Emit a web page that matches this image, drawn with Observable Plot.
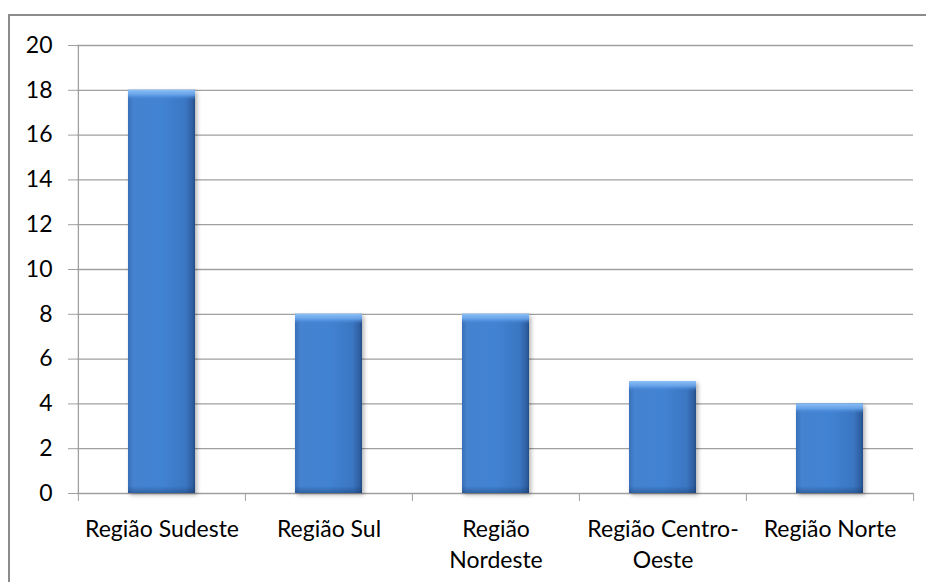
<!DOCTYPE html>
<html><head><meta charset="utf-8">
<script src="https://cdn.jsdelivr.net/npm/d3@7"></script>
<script src="https://cdn.jsdelivr.net/npm/@observablehq/plot@0.6"></script>
<style>
html,body{margin:0;padding:0;background:#fff;}
#wrap{position:relative;width:926px;height:582px;overflow:hidden;}
#border{position:absolute;left:8px;top:14px;width:940px;height:600px;border-top:2px solid #8c8c8c;border-left:2px solid #8c8c8c;pointer-events:none;}
</style></head><body>
<div id="wrap"><div id="chart"></div><div id="border"></div></div>
<script>
const categories = ["Região Sudeste", "Região Sul", "Região Nordeste", "Região Centro-Oeste", "Região Norte"];
const values = [18, 8, 8, 5, 4];
const tickLabels = ["Região Sudeste", "Região Sul", "Região\nNordeste", "Região Centro-\nOeste", "Região Norte"];
const yTicks = [0, 2, 4, 6, 8, 10, 12, 14, 16, 18, 20];

const data = categories.map((c, i) => ({region: c, value: values[i], label: tickLabels[i]}));
const labelOf = new Map(data.map(d => [d.region, d.label]));

const W = 926, H = 582, mL = 77, mR = 13, mT = 45, mB = 89;
const step = (W - mL - mR) / categories.length;
const grid = "#a0a0a0";

const chart = Plot.plot({
  width: W, height: H,
  marginLeft: mL, marginRight: mR, marginTop: mT, marginBottom: mB,
  style: {fontFamily: "Lato, 'Open Sans', sans-serif", fontSize: "23px", color: "#000", background: "#fff", overflow: "visible"},
  x: {domain: categories, paddingInner: 0.6, paddingOuter: 0.3, label: null},
  y: {domain: [0, 20], label: null},
  marks: [
    Plot.ruleY(yTicks, {stroke: grid, strokeWidth: 1.3}),
    Plot.ruleX([categories[0]], {x: d => d, dx: -step / 2, y1: 0, y2: 20, stroke: grid, strokeWidth: 1.3}),
    Plot.axisY({ticks: yTicks, tickSize: 9, tickPadding: 16, stroke: grid, fill: "#000", tickFormat: d => String(d), label: null}),
    Plot.axisX({tickSize: 8, dx: -step / 2, tickFormat: () => "", stroke: grid, label: null}),
    Plot.axisX({ticks: [categories[categories.length - 1]], tickSize: 8, dx: step / 2, tickFormat: () => "", stroke: grid, label: null}),
    Plot.axisX({tickSize: 0, tickPadding: 21, tickFormat: d => labelOf.get(d), lineHeight: 1.35, fill: "#000", label: null}),
    Plot.barY(data, {x: "region", y: "value", fill: "url(#barGrad)"}),
    Plot.barY(data, {x: "region", y1: 0, y2: 0, insetTop: -7, fill: "url(#barShade)"}),
    Plot.barY(data, {x: "region", y1: "value", y2: "value", insetBottom: -10, fill: "url(#bevelGrad)"})
  ]
});

const svg = d3.select(chart);
const defs = svg.insert("defs", ":first-child");
const g1 = defs.append("linearGradient").attr("id", "barGrad").attr("x1", 0).attr("x2", 1).attr("y1", 0).attr("y2", 0);
[[0, "#3a6fb8"], [0.08, "#4582cf"], [0.5, "#4183d3"], [0.86, "#3b76c2"], [0.96, "#2f60a3"], [1, "#244d86"]]
  .forEach(([o, c]) => g1.append("stop").attr("offset", o).attr("stop-color", c));
const g2 = defs.append("linearGradient").attr("id", "barShade").attr("x1", 0).attr("x2", 0).attr("y1", 0).attr("y2", 1);
[[0, "#0a2750", 0], [1, "#0a2750", 0.35]]
  .forEach(([o, c, a]) => g2.append("stop").attr("offset", o).attr("stop-color", c).attr("stop-opacity", a));
const g3 = defs.append("linearGradient").attr("id", "bevelGrad").attr("x1", 0).attr("x2", 0).attr("y1", 0).attr("y2", 1);
[[0, "#8cc0f6", 1], [0.5, "#6aa6ec", 0.9], [1, "#4586d6", 0]]
  .forEach(([o, c, a]) => g3.append("stop").attr("offset", o).attr("stop-color", c).attr("stop-opacity", a));

svg.selectAll('g[aria-label="bar"]').filter((d, i) => i === 0)
  .style("filter", "drop-shadow(2px 2px 2px rgba(0,0,0,0.3))");

document.getElementById("chart").appendChild(chart);
</script>
</body></html>
